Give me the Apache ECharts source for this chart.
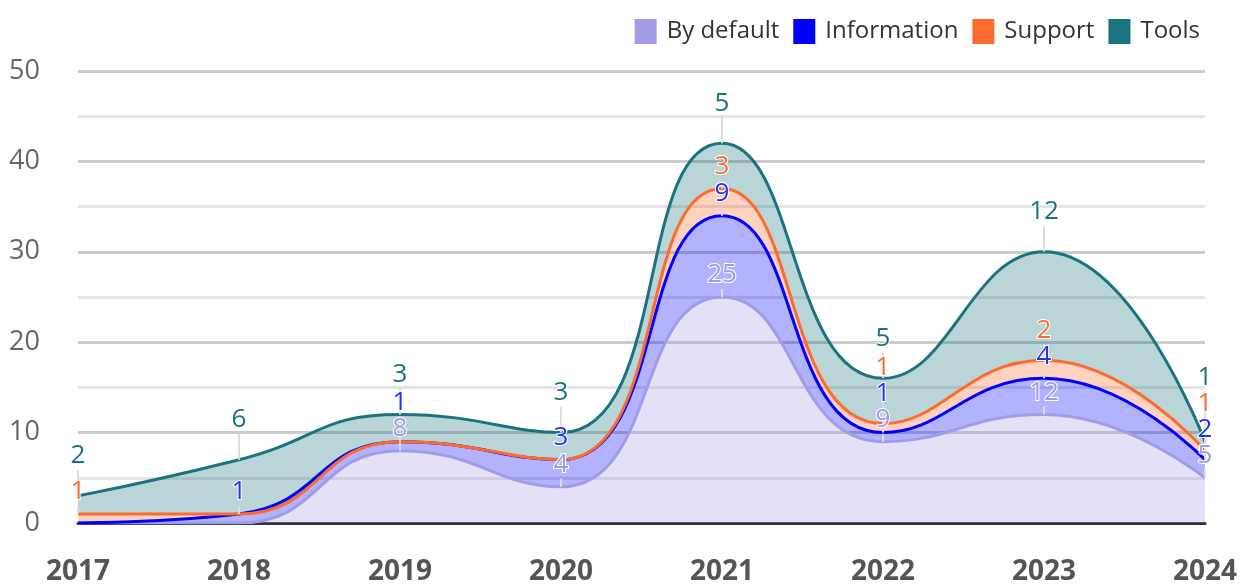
<!DOCTYPE html>
<html>
<head>
<meta charset="utf-8">
<script src="https://cdn.jsdelivr.net/npm/echarts@6/dist/echarts.min.js"></script>
<style>
  html, body { margin: 0; padding: 0; background: #fff; }
  #chart { width: 1247px; height: 586px; }
</style>
</head>
<body>
<div id="chart"></div>
<script>
const years = ['2017', '2018', '2019', '2020', '2021', '2022', '2023', '2024']
const byDefault = [0, 0, 8, 4, 25, 9, 12, 5]
const information = [0, 1, 1, 3, 9, 1, 4, 2]
const support = [1, 0, 0, 0, 3, 1, 2, 1]
const tools = [2, 6, 3, 3, 5, 5, 12, 1]

const font = '"Open Sans", "Noto Sans", sans-serif'
const stackOrder = [byDefault, information, support, tools]

let chart = null

// stack the labels of one year from the bottom up so they don't overlap
function labelY(seriesIndex, dataIndex) {
  let cum = 0
  let below = Infinity
  let y = 0
  for (let s = 0; s <= seriesIndex; s++) {
    const v = stackOrder[s][dataIndex]
    cum += v
    if (!v) continue
    const py = chart.convertToPixel({ gridIndex: 0 }, [dataIndex, cum])[1]
    const lift = s === stackOrder.length - 1 ? 40 : 22
    y = Math.min(py - lift, below - 26)
    below = y
  }
  return y
}

function makeSeries(name, data, color, labelColor) {
  return {
    name: name,
    type: 'line',
    stack: 'total',
    smooth: 0.5,
    symbol: 'circle',
    symbolSize: 0.01,
    showSymbol: true,
    // zero values get no label
    data: data.map(v => (v ? v : { value: v, label: { show: false }, labelLine: { show: false } })),
    lineStyle: { color: color, width: 3 },
    itemStyle: { color: color },
    areaStyle: { color: color, opacity: 0.3 },
    label: {
      show: true,
      position: 'top',
      color: labelColor || color,
      fontFamily: font,
      fontSize: 26,
      textBorderColor: '#fff',
      textBorderWidth: 2
    },
    labelLine: {
      show: true,
      lineStyle: { color: '#dcdcdc', width: 2 }
    },
    labelLayout: p => ({
      x: p.rect.x + p.rect.width / 2,
      y: labelY(p.seriesIndex, p.dataIndex),
      align: 'center',
      verticalAlign: 'middle'
    }),
    emphasis: { disabled: true }
  }
}

chart = echarts.init(document.getElementById('chart'))
chart.setOption({
  animation: false,
  legend: {
    top: 14,
    right: 42,
    itemWidth: 22,
    itemHeight: 25,
    itemGap: 14,
    icon: 'rect',
    textStyle: { fontFamily: font, fontSize: 24, color: '#333', padding: [0, 0, 0, 5] },
    data: ['By default', 'Information', 'Support', 'Tools']
  },
  grid: { left: 78, right: 42, top: 71, bottom: 61 },
  xAxis: {
    type: 'category',
    boundaryGap: false,
    data: years,
    axisLine: { lineStyle: { color: '#333', width: 3 } },
    axisTick: { show: false },
    axisLabel: {
      margin: 35,
      fontFamily: font,
      fontSize: 28,
      fontWeight: 'bold',
      color: '#555'
    }
  },
  yAxis: {
    type: 'value',
    min: 0,
    max: 50,
    interval: 10,
    axisLabel: { margin: 38, fontFamily: font, fontSize: 27, color: '#666' },
    splitLine: { lineStyle: { color: '#cbcbcb', width: 3 } },
    minorTick: { show: false, splitNumber: 2 },
    minorSplitLine: { show: true, lineStyle: { color: '#e4e4e4', width: 3 } }
  },
  series: [
    makeSeries('By default', byDefault, '#a09ce6'),
    makeSeries('Information', information, '#0000ff', '#2233ee'),
    makeSeries('Support', support, '#ff6b2e'),
    makeSeries('Tools', tools, '#1b737f')
  ]
})
</script>
</body>
</html>
